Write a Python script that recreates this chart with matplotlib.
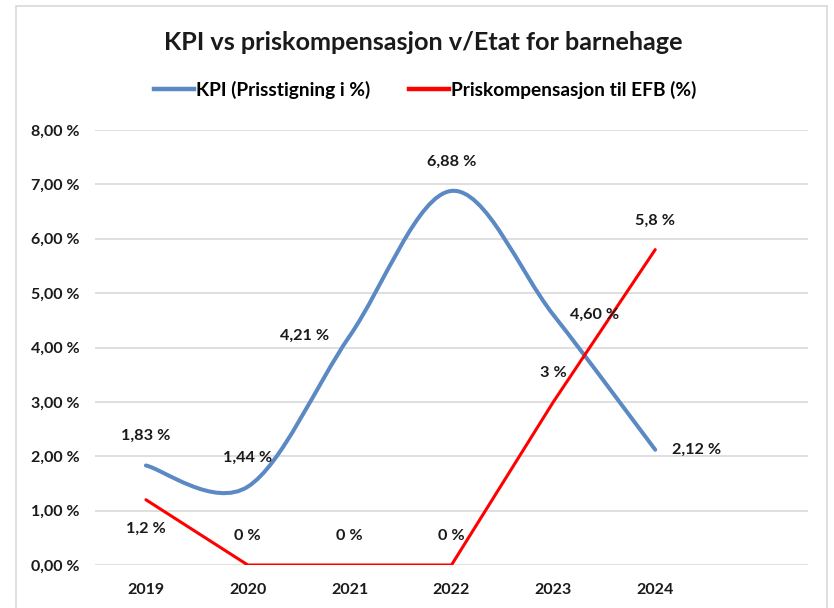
import numpy as np
import matplotlib.pyplot as plt
from matplotlib.path import Path
from matplotlib.patches import PathPatch, Rectangle
from matplotlib.lines import Line2D

plt.rcParams['font.family'] = ['Lato', 'DejaVu Sans']
plt.rcParams['font.weight'] = 'bold'

years = ['2019', '2020', '2021', '2022', '2023', '2024', '']
kpi = [1.83, 1.44, 4.21, 6.88, 4.60, 2.12]
kpi_labels = ['1,83 %', '1,44 %', '4,21 %', '6,88 %', '4,60 %', '2,12 %']
kpi_pos = ['above', 'above', 'left', 'above', 'right', 'right']
pris = [1.2, 0, 0, 0, 3, 5.8]
pris_labels = ['1,2 %', '0 %', '0 %', '0 %', '3 %', '5,8 %']
pris_pos = ['below', 'above', 'above', 'above', 'above', 'above']
yticks = [0, 1, 2, 3, 4, 5, 6, 7, 8]
ytick_labels = ['0,00 %', '1,00 %', '2,00 %', '3,00 %', '4,00 %',
                '5,00 %', '6,00 %', '7,00 %', '8,00 %']

blue = '#5A89C4'
red = '#FF0000'


def smooth_path(x, y):
    # excel-like smoothed line: bezier segments, catmull-rom control points
    pts = np.column_stack([x, y]).astype(float)
    n = len(pts)
    verts = [pts[0]]
    codes = [Path.MOVETO]
    for i in range(n - 1):
        p0 = pts[max(i - 1, 0)]
        p1 = pts[i]
        p2 = pts[i + 1]
        p3 = pts[min(i + 2, n - 1)]
        verts += [p1 + (p2 - p0) / 6, p2 - (p3 - p1) / 6, p2]
        codes += [Path.CURVE4] * 3
    return Path(verts, codes)


fig = plt.figure(figsize=(8.34, 6.08), dpi=100)
fig.patches.append(Rectangle((16 / 834, -0.05), (827 - 16) / 834, 1.05 - 6 / 608,
                             transform=fig.transFigure, fill=False,
                             edgecolor='#D9D9D9', lw=1.2))
ax = fig.add_axes([95 / 834, 1 - 565 / 608, (808 - 95) / 834, (565 - 130) / 608])

x = np.arange(len(kpi))
ax.add_patch(PathPatch(smooth_path(x, kpi), fill=False, edgecolor=blue, lw=2.9,
                       capstyle='round', joinstyle='round', zorder=3))
ax.plot(x, pris, color=red, lw=2.2, solid_capstyle='round', zorder=4)

offsets = {'above': (0, 16, 'center', 'bottom'), 'below': (0, -16, 'center', 'top'),
           'left': (-15, 0, 'right', 'center'), 'right': (12, 0, 'left', 'center')}
for xi, yi, lab, pos in list(zip(x, kpi, kpi_labels, kpi_pos)) + list(zip(x, pris, pris_labels, pris_pos)):
    dx, dy, ha, va = offsets[pos]
    ax.annotate(lab, (xi, yi), xytext=(dx, dy), textcoords='offset points',
                ha=ha, va=va, fontsize=11.7, fontweight='bold', color='#1A1A1A', zorder=5)

ax.set_xlim(-0.5, len(years) - 0.5)
ax.set_ylim(0, 8)
ax.set_xticks(np.arange(len(years)))
ax.set_xticklabels(years)
ax.set_yticks(yticks)
ax.set_yticklabels(ytick_labels)
ax.tick_params(length=0, labelsize=11.5, colors='#1A1A1A')
ax.tick_params(axis='x', pad=13)
ax.tick_params(axis='y', pad=11)
for lab in ax.get_xticklabels() + ax.get_yticklabels():
    lab.set_fontweight('bold')
ax.grid(axis='y', color='#D9D9D9', lw=1.2)
ax.set_axisbelow(True)
for s in ax.spines.values():
    s.set_visible(False)

fig.text(423 / 834, 1 - 42 / 608, 'KPI vs priskompensasjon v/Etat for barnehage',
         ha='center', va='center', fontsize=18.2, fontweight='bold', color='#1A1A1A')

handles = [Line2D([], [], color=blue, lw=3.2), Line2D([], [], color=red, lw=3.2)]
fig.legend(handles, ['KPI (Prisstigning i %)', 'Priskompensasjon til EFB (%)'],
           loc='center', bbox_to_anchor=(425 / 834, 1 - 90 / 608), ncol=2,
           frameon=False, handlelength=2.1, handletextpad=0.1,
           columnspacing=2.0, prop={'weight': 'bold', 'size': 13.8})

fig.savefig('out.png', dpi=100)
